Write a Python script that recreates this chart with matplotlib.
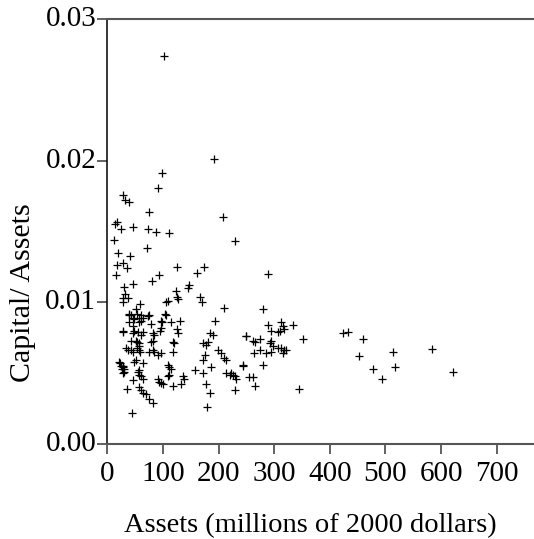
import matplotlib
matplotlib.use("Agg")
import matplotlib.pyplot as plt
from matplotlib.transforms import ScaledTranslation

# Assets (millions of 2000 dollars)
assets = [
    102.6, 191.6, 98.5, 91.9, 28.8, 31.8, 39.6, 75.7, 207.8, 17.4, 13.8, 25.2, 46.8, 72.7,
    88.3, 110.5, 12.0, 230.0, 71.5, 19.2, 41.4, 27.6, 17.4, 35.4, 125.5, 173.0, 161.0, 16.2,
    92.5, 289.0,
    29.4, 45.6, 31.2, 79.9, 123.7, 124.9, 146.5, 145.3, 165.8, 169.4, 28.8, 27.6, 37.2, 59.5,
    105.7, 108.7, 126.7, 209.0, 39.6, 38.4, 42.6, 51.7, 53.5, 60.7, 57.7, 63.7, 72.7, 75.7,
    45.6, 48.6, 39.6, 57.7, 60.7, 78.7, 96.7, 98.5, 103.9, 105.7, 114.7, 131.5, 192.8, 27.6,
    28.8, 45.6, 48.6, 45.6, 54.7, 60.7, 63.7, 81.7, 84.7, 96.7, 95.5, 124.9, 126.7, 183.8,
    189.8, 249.8, 42.6, 51.7, 53.5, 56.5, 57.7, 78.7, 81.7, 118.9, 120.7, 171.8, 180.8, 177.8,
    33.6, 36.6, 42.6, 45.6, 52.9, 56.5, 58.9, 75.7, 81.7, 84.7, 96.7, 90.7, 117.7, 174.8,
    171.8, 198.8, 204.8, 209.0, 213.8, 21.6, 22.8, 24.6, 27.6, 28.8, 30.6, 26.4, 51.7, 48.6,
    63.7, 108.7, 111.7, 114.7, 156.8, 186.8, 213.8, 219.8, 222.8, 225.8, 228.8, 231.8, 243.8,
    254.0, 30.6, 27.6, 57.7, 54.7, 56.5, 60.7, 45.6, 63.7, 90.7, 93.7, 96.7, 99.7, 108.7,
    111.7, 135.7, 138.7, 132.7, 117.7, 171.8, 177.8, 183.8, 228.8, 179.6, 34.8, 57.7, 60.7,
    63.7, 69.7, 74.5, 81.7, 44.4,
    280.0, 289.0, 295.0, 307.0, 313.0, 316.0, 318.0, 311.0, 334.0, 248.7, 262.0, 265.0, 274.0,
    295.0, 293.0, 352.0, 298.0, 307.0, 313.0, 318.0, 316.0, 321.0, 274.0, 286.0, 295.0, 263.0,
    244.0, 279.0, 262.0, 266.0, 345.0, 423.0, 433.0, 459.0, 452.0, 478.0, 494.0,
    513.0, 583.0, 518.0, 622.0,
]

# Capital / Assets ratio
ratio = [
    0.0274, 0.0201, 0.0191, 0.0181, 0.0176, 0.0172, 0.0171, 0.0164, 0.0160, 0.0157, 0.0155,
    0.0152, 0.0153, 0.0152, 0.0150, 0.0149, 0.0144, 0.0143, 0.0138, 0.0135, 0.0133, 0.0128,
    0.0126, 0.0124, 0.0125, 0.0125, 0.0121, 0.0119, 0.0119, 0.0120,
    0.0111, 0.0113, 0.0106, 0.0115, 0.0108, 0.0104, 0.0112, 0.0110, 0.0104, 0.0100, 0.0103,
    0.0100, 0.0103, 0.0099, 0.0100, 0.0101, 0.0102, 0.0096, 0.0092, 0.0091, 0.0091, 0.0095,
    0.0092, 0.0091, 0.0089, 0.0089, 0.0090, 0.0091, 0.0089, 0.0088, 0.0086, 0.0086, 0.0087,
    0.0085, 0.0087, 0.0086, 0.0092, 0.0091, 0.0086, 0.0087, 0.0087, 0.0080, 0.0079, 0.0083,
    0.0080, 0.0078, 0.0079, 0.0077, 0.0079, 0.0078, 0.0077, 0.0082, 0.0080, 0.0081, 0.0078,
    0.0078, 0.0077, 0.0076, 0.0073, 0.0073, 0.0072, 0.0071, 0.0069, 0.0072, 0.0073, 0.0072,
    0.0071, 0.0071, 0.0072, 0.0070, 0.0068, 0.0066, 0.0066, 0.0065, 0.0068, 0.0066, 0.0065,
    0.0065, 0.0066, 0.0065, 0.0064, 0.0063, 0.0065, 0.0063, 0.0059, 0.0066, 0.0064, 0.0061,
    0.0059, 0.0058, 0.0057, 0.0055, 0.0055, 0.0054, 0.0053, 0.0053, 0.0059, 0.0058, 0.0057,
    0.0056, 0.0054, 0.0053, 0.0052, 0.0054, 0.0050, 0.0049, 0.0050, 0.0049, 0.0048, 0.0046,
    0.0055, 0.0047, 0.0051, 0.0050, 0.0052, 0.0051, 0.0049, 0.0048, 0.0045, 0.0046, 0.0046,
    0.0044, 0.0043, 0.0042, 0.0048, 0.0049, 0.0048, 0.0046, 0.0042, 0.0041, 0.0050, 0.0042,
    0.0036, 0.0038, 0.0026, 0.0039, 0.0040, 0.0038, 0.0036, 0.0035, 0.0032, 0.0029, 0.0022,
    0.0095, 0.0084, 0.0080, 0.0079, 0.0086, 0.0083, 0.0081, 0.0080, 0.0084, 0.0076, 0.0073,
    0.0072, 0.0074, 0.0073, 0.0071, 0.0074, 0.0069, 0.0068, 0.0068, 0.0066, 0.0064, 0.0066,
    0.0066, 0.0064, 0.0065, 0.0064, 0.0056, 0.0056, 0.0047, 0.0041, 0.0039, 0.0078, 0.0079,
    0.0074, 0.0062, 0.0053, 0.0046,
    0.0065, 0.0067, 0.0054, 0.0051,
]

x_ticks = [0, 100, 200, 300, 400, 500, 600, 700]
y_ticks = [0.00, 0.01, 0.02, 0.03]
y_tick_labels = ["0.00", "0.01", "0.02", "0.03"]

plt.rcParams['font.family'] = ['Liberation Serif', 'DejaVu Serif']

fig = plt.figure(figsize=(5.34, 5.39), dpi=100)
ax = fig.add_axes([0.201, 0.1763, 0.80, 0.7884])

ax.plot(assets, ratio, linestyle='none', marker='+', color='black',
        markersize=6, markeredgewidth=0.9)

ax.set_xlim(0, 768)
ax.set_ylim(0, 0.03)
ax.set_xticks(x_ticks)
ax.set_yticks(y_ticks)
ax.set_yticklabels(y_tick_labels)

ax.spines['right'].set_visible(False)
ax.spines['left'].set_color('black')
ax.spines['left'].set_linewidth(1.1)
ax.spines['top'].set_color('#555555')
ax.spines['top'].set_linewidth(1.5)
ax.spines['bottom'].set_color('#555555')
ax.spines['bottom'].set_linewidth(1.5)

ax.tick_params(axis='both', direction='out', length=7, width=1.3, colors='#555555',
               labelcolor='black', labelsize=21)
ax.tick_params(axis='x', pad=5)
ax.tick_params(axis='y', pad=1)

# shift y tick labels slightly upward as in the reference
for lbl in ax.get_yticklabels():
    lbl.set_transform(lbl.get_transform() + ScaledTranslation(0, 3 / 100, fig.dpi_scale_trans))

ax.set_xlabel("Assets (millions of 2000 dollars)", fontsize=20.5)
ax.xaxis.set_label_coords(0.476, -0.162)
ax.set_ylabel("Capital/ Assets", fontsize=21.5)
ax.yaxis.set_label_coords(-0.168, 0.355)

fig.savefig("out.png", dpi=100)
